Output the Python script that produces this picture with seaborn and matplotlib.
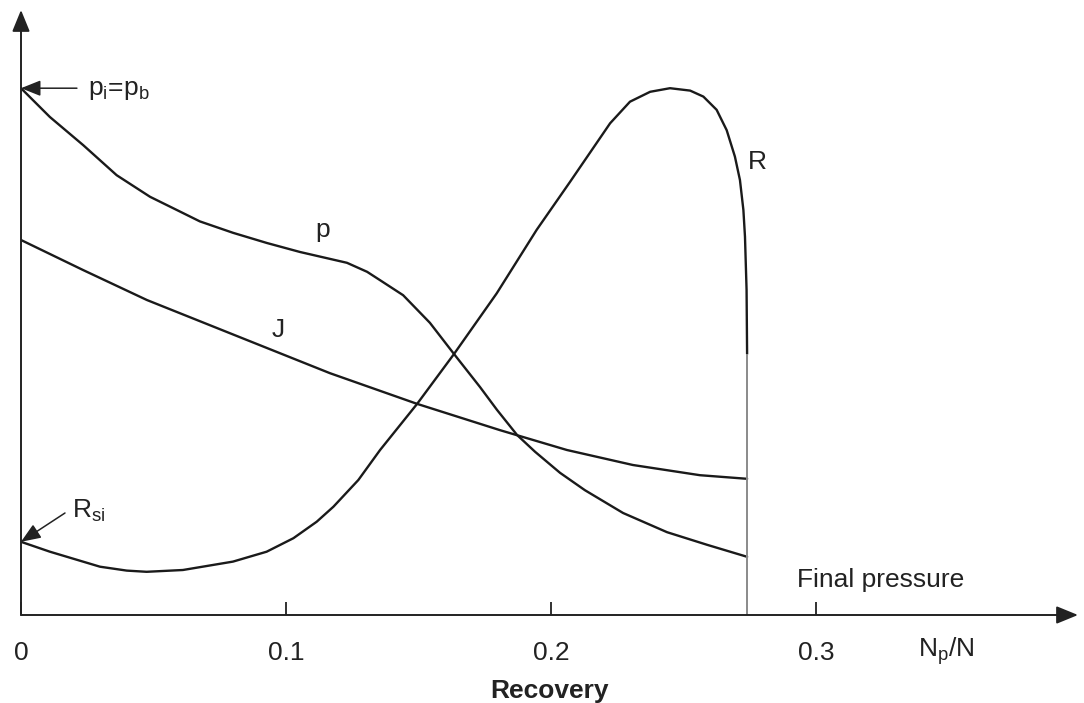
import numpy as np
import pandas as pd
import matplotlib
matplotlib.use("Agg")
import matplotlib.pyplot as plt
import seaborn as sns

# ---- data (recovery Np/N, arbitrary vertical units) ----
recovery_p = [0.0, 0.0109, 0.0235, 0.0361, 0.0487, 0.0588, 0.0675, 0.0800, 0.0928,
              0.1053, 0.1230, 0.1306, 0.1355, 0.1442, 0.1543, 0.1634, 0.1732, 0.1796,
              0.1872, 0.1940, 0.2034, 0.2128, 0.2272, 0.2438, 0.2589, 0.274]
pressure = [87.8, 83.0, 78.3, 73.3, 69.7, 67.5, 65.6, 63.7, 62.0,
            60.5, 58.7, 57.2, 55.8, 53.3, 48.7, 43.5, 38.0, 34.2,
            30.0, 27.2, 23.7, 20.8, 17.0, 13.8, 11.7, 9.7]

recovery_J = [0.0, 0.0234, 0.0475, 0.0826, 0.1166, 0.1494, 0.1808, 0.2060, 0.2309,
              0.2562, 0.274]
J_index = [62.5, 57.5, 52.5, 46.3, 40.3, 35.2, 30.8, 27.5, 25.0, 23.3, 22.7]

recovery_R = [0.0, 0.0109, 0.0298, 0.0399, 0.0474, 0.0611, 0.0800, 0.0927, 0.1028,
              0.1116, 0.1179, 0.1273, 0.1355, 0.1495, 0.1634, 0.1795, 0.1946, 0.2072,
              0.2223, 0.2298, 0.2374, 0.2449, 0.2525, 0.2575, 0.2625, 0.2663, 0.2694,
              0.2713, 0.2726, 0.2732, 0.2738, 0.274]
gor_R = [12.2, 10.55, 8.05, 7.4, 7.2, 7.5, 8.9, 10.55, 12.8,
         15.55, 18.05, 22.5, 27.5, 35.2, 43.5, 53.6, 64.2, 72.2,
         81.95, 85.55, 87.2, 87.8, 87.4, 86.4, 84.2, 80.8, 76.4,
         72.5, 67.5, 63.05, 54.2, 43.5]

tick_values = [0.0, 0.1, 0.2, 0.3]
tick_labels = ["0", "0.1", "0.2", "0.3"]
final_recovery = 0.274

sns.set_theme(style="white")
plt.rcParams["font.family"] = ["Liberation Sans", "DejaVu Sans"]
plt.rcParams["mathtext.fontset"] = "custom"
plt.rcParams["mathtext.rm"] = "Liberation Sans"
plt.rcParams["mathtext.it"] = "Liberation Sans"
plt.rcParams["mathtext.bf"] = "Liberation Sans:bold"

W, H = 1084, 703
fig = plt.figure(figsize=(W / 100, H / 100), dpi=100)
ax = fig.add_axes([21 / W, 88 / H, 1057 / W, 605 / H])

line_color = "#1a1a1a"
df_p = pd.DataFrame({"x": recovery_p, "y": pressure})
df_J = pd.DataFrame({"x": recovery_J, "y": J_index})
df_R = pd.DataFrame({"x": recovery_R, "y": gor_R})
for df in (df_p, df_J, df_R):
    sns.lineplot(data=df, x="x", y="y", sort=False, estimator=None,
                 color=line_color, lw=1.7, ax=ax, solid_joinstyle="round")

# continuation of final recovery line in grey
ax.vlines(final_recovery, 0, gor_R[-1], color="#8a8a8a", lw=1.4)

ax.set_xlim(0, 1057 / 2650)
ax.set_ylim(0, 605 / 6)
for s in ax.spines.values():
    s.set_visible(False)

ax.set_xticks(tick_values)
ax.set_xticklabels(tick_labels, fontsize=19, color="#222222")
ax.tick_params(axis="x", direction="in", length=9.5, width=1.3, color="#222222",
               pad=19, bottom=True)
ax.set_yticks([])
ax.set_ylabel("")
ax.set_xlabel("Recovery", fontsize=19, fontweight="bold", color="#222222", labelpad=10)

# axis arrows
arrow_kw = dict(arrowstyle="-|>,head_length=1.1,head_width=0.45", color="#222222",
                lw=1.4, shrinkA=0, shrinkB=0, mutation_scale=12)
ax.annotate("", xy=(0, 1), xytext=(0, 0), xycoords="axes fraction",
            textcoords="axes fraction", arrowprops=arrow_kw, annotation_clip=False)
ax.annotate("", xy=(1, 0), xytext=(0, 0), xycoords="axes fraction",
            textcoords="axes fraction", arrowprops=arrow_kw, annotation_clip=False)

# labels on curves
fs = 19
ax.text(0.114, 64.2, "p", fontsize=fs, ha="center", va="center", color="#222222")
ax.text(0.097, 47.5, "J", fontsize=fs, ha="center", va="center", color="#222222")
ax.text(0.278, 75.5, "R", fontsize=fs, ha="center", va="center", color="#222222")

small_arrow = dict(arrowstyle="-|>,head_length=1.0,head_width=0.4", color="#222222",
                   lw=1.1, shrinkA=0, shrinkB=0, mutation_scale=12)
ax.annotate("", xy=(0, pressure[0]), xytext=(0.0211, pressure[0]),
            arrowprops=small_arrow, annotation_clip=False)
ax.text(0.0253, 87.5, r"$\mathregular{p_i}$=$\mathregular{p_b}$", fontsize=fs,
        ha="left", va="center", color="#222222")

ax.annotate("", xy=(0, gor_R[0]), xytext=(0.0166, 17.0),
            arrowprops=small_arrow, annotation_clip=False)
ax.text(0.0192, 17.3, r"$\mathregular{R_{si}}$", fontsize=fs, ha="left",
        va="center", color="#222222")

ax.text(0.293, 5.8, "Final pressure", fontsize=fs, ha="left", va="center",
        color="#222222")
ax.text(0.349, -6.0, r"$\mathregular{N_p}$/N", fontsize=fs, ha="center",
        va="center", color="#222222", clip_on=False)

fig.savefig("out.png", dpi=100, facecolor="white")
